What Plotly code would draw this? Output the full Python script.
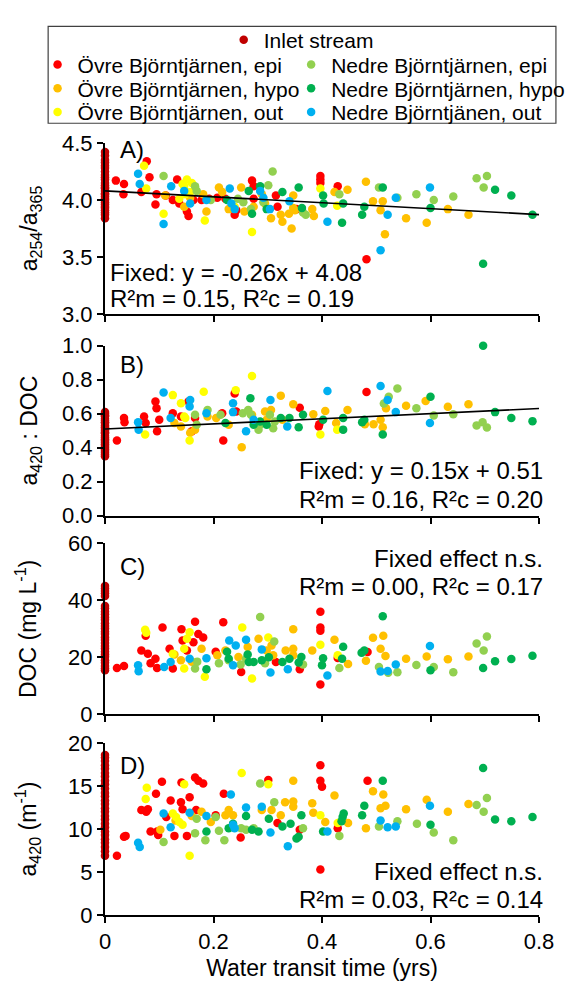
import plotly.graph_objects as go

# ---------------- data (x = water transit time in yrs) ----------------
SERIES_NAMES = ["Inlet stream",
                "Övre Björntjärnen, epi", "Övre Björntjärnen, hypo", "Övre Björntjärnen, out",
                "Nedre Björntjärnen, epi", "Nedre Björntjärnen, hypo", "Nedre Björntjänen, out"]

# Panel A: a254/a365
A_INLET_Y = [4.42, 4.39, 4.35, 4.33, 4.30, 4.28, 4.25, 4.22, 4.20, 4.18, 4.15, 4.13, 4.11, 4.10,
             4.08, 4.06, 4.05, 4.03, 4.01, 4.00, 3.98, 3.96, 3.94, 3.93, 3.91, 3.89, 3.87, 3.84]
A_OVRE_EPI = [(0.020, 4.17), (0.035, 4.14), (0.034, 4.05), (0.067, 4.07), (0.077, 4.34), (0.082, 4.20),
              (0.095, 4.05), (0.093, 3.96), (0.112, 4.04), (0.133, 4.18), (0.125, 4.00), (0.137, 3.97),
              (0.154, 3.86), (0.163, 4.00), (0.151, 3.90), (0.178, 4.00), (0.192, 4.01), (0.207, 4.02),
              (0.222, 4.01), (0.239, 3.87), (0.242, 3.91), (0.271, 4.17), (0.274, 4.12), (0.274, 4.01),
              (0.315, 4.04), (0.318, 3.94), (0.353, 3.92), (0.397, 4.21), (0.397, 4.18), (0.397, 4.15),
              (0.429, 4.12), (0.482, 3.48)]
A_OVRE_HYPO = [(0.111, 4.04), (0.146, 3.94), (0.157, 4.02), (0.181, 4.05), (0.187, 3.90), (0.210, 4.11),
               (0.216, 4.07), (0.228, 3.92), (0.251, 4.11), (0.257, 3.90), (0.274, 3.94), (0.289, 4.05),
               (0.295, 3.97), (0.306, 3.84), (0.324, 3.87), (0.327, 3.81), (0.339, 3.88), (0.344, 3.75),
               (0.350, 3.91), (0.347, 4.04), (0.347, 3.93), (0.382, 3.92), (0.385, 3.86), (0.423, 4.07),
               (0.447, 4.09), (0.481, 4.16), (0.494, 3.99), (0.508, 3.91), (0.512, 3.99), (0.516, 3.70),
               (0.555, 3.84), (0.593, 3.80), (0.632, 3.92), (0.670, 3.87)]
A_OVRE_OUT = [(0.072, 4.30), (0.076, 4.10), (0.108, 3.88), (0.143, 4.14), (0.146, 4.12), (0.151, 4.18),
              (0.160, 4.15), (0.148, 4.05), (0.157, 4.07), (0.137, 4.01), (0.184, 3.82), (0.239, 3.94),
              (0.271, 3.72), (0.397, 4.10), (0.428, 3.95)]
A_NEDRE_EPI = [(0.108, 4.21), (0.166, 4.12), (0.169, 4.08), (0.195, 4.00), (0.245, 4.01), (0.255, 3.98),
               (0.269, 3.92), (0.292, 3.98), (0.301, 4.13), (0.309, 4.25), (0.365, 3.89), (0.370, 3.87),
               (0.432, 4.05), (0.505, 4.11), (0.539, 4.02), (0.574, 4.05), (0.606, 4.00), (0.642, 4.03),
               (0.685, 4.19), (0.704, 4.21), (0.698, 4.11)]
A_NEDRE_HYPO = [(0.225, 4.00), (0.265, 4.08), (0.271, 3.88), (0.286, 4.12), (0.298, 3.92), (0.327, 4.07),
                (0.357, 4.11), (0.363, 3.93), (0.402, 4.04), (0.403, 3.97), (0.437, 3.80), (0.439, 3.97),
                (0.474, 3.87), (0.478, 3.94), (0.512, 4.11), (0.600, 3.93), (0.697, 3.44), (0.719, 4.09),
                (0.749, 4.04), (0.788, 3.87)]
A_NEDRE_OUT = [(0.061, 4.23), (0.064, 4.14), (0.108, 3.79), (0.122, 4.12), (0.146, 4.08), (0.157, 3.97),
               (0.187, 4.00), (0.230, 4.10), (0.233, 3.97), (0.239, 3.92), (0.286, 4.08), (0.292, 4.02),
               (0.304, 3.92), (0.340, 3.99), (0.410, 3.81), (0.508, 3.56), (0.521, 3.87), (0.536, 4.02),
               (0.599, 4.11)]

# Panel B: a420 : DOC
B_INLET_Y = [0.61, 0.60, 0.59, 0.585, 0.57, 0.56, 0.55, 0.545, 0.53, 0.52, 0.51, 0.50, 0.49, 0.485,
             0.47, 0.46, 0.45, 0.44, 0.43, 0.42, 0.41, 0.40, 0.39, 0.38, 0.37, 0.36, 0.35]
B_OVRE_EPI = [(0.022, 0.442), (0.035, 0.574), (0.036, 0.550), (0.072, 0.583), (0.075, 0.545), (0.093, 0.671),
              (0.095, 0.632), (0.096, 0.496), (0.100, 0.564), (0.125, 0.603), (0.140, 0.583), (0.154, 0.671),
              (0.160, 0.496), (0.166, 0.574), (0.218, 0.442), (0.216, 0.603), (0.239, 0.719), (0.242, 0.613),
              (0.359, 0.635), (0.395, 0.538), (0.394, 0.524), (0.482, 0.728)]
B_OVRE_HYPO = [(0.128, 0.545), (0.140, 0.525), (0.157, 0.487), (0.166, 0.506), (0.189, 0.583), (0.205, 0.574),
               (0.228, 0.535), (0.252, 0.403), (0.271, 0.593), (0.295, 0.613), (0.298, 0.564), (0.306, 0.622),
               (0.324, 0.706), (0.327, 0.564), (0.347, 0.655), (0.384, 0.597), (0.406, 0.616), (0.426, 0.545),
               (0.447, 0.622), (0.479, 0.538), (0.495, 0.538), (0.508, 0.564), (0.512, 0.520), (0.518, 0.632),
               (0.555, 0.647), (0.591, 0.674), (0.632, 0.641), (0.670, 0.655)]
B_OVRE_OUT = [(0.074, 0.477), (0.125, 0.709), (0.146, 0.583), (0.140, 0.661), (0.156, 0.442), (0.148, 0.574),
              (0.182, 0.729), (0.241, 0.738), (0.271, 0.822), (0.397, 0.477), (0.428, 0.506)]
B_NEDRE_EPI = [(0.166, 0.593), (0.169, 0.535), (0.189, 0.622), (0.213, 0.593), (0.254, 0.603), (0.264, 0.622),
               (0.269, 0.593), (0.283, 0.505), (0.286, 0.535), (0.304, 0.593), (0.310, 0.514), (0.313, 0.554),
               (0.514, 0.660), (0.523, 0.699), (0.539, 0.748), (0.574, 0.632), (0.606, 0.589), (0.642, 0.597),
               (0.685, 0.531), (0.696, 0.550), (0.704, 0.519)]
B_NEDRE_HYPO = [(0.222, 0.545), (0.268, 0.690), (0.274, 0.535), (0.286, 0.554), (0.298, 0.535), (0.324, 0.574),
                (0.340, 0.574), (0.365, 0.593), (0.357, 0.520), (0.402, 0.564), (0.439, 0.574), (0.439, 0.506),
                (0.474, 0.550), (0.478, 0.564), (0.512, 0.477), (0.600, 0.699), (0.697, 1.000), (0.719, 0.609),
                (0.749, 0.575), (0.788, 0.556)]
B_NEDRE_OUT = [(0.061, 0.550), (0.062, 0.506), (0.108, 0.724), (0.121, 0.574), (0.156, 0.642), (0.157, 0.680),
               (0.187, 0.603), (0.236, 0.661), (0.236, 0.609), (0.260, 0.496), (0.274, 0.564), (0.305, 0.680),
               (0.336, 0.525), (0.410, 0.733), (0.508, 0.762), (0.521, 0.680), (0.536, 0.609), (0.599, 0.545)]

# Panel C: DOC (mg L-1)
C_INLET_Y = [45.0, 44.2, 43.3, 42.5, 41.5, 38.0, 37.2, 36.0, 35.1, 34.0, 33.2, 32.0, 31.0, 30.1, 29.0,
             28.2, 27.0, 26.1, 25.0, 24.0, 23.1, 22.0, 21.0, 20.2, 19.0, 18.1, 17.0, 16.2, 15.5]
C_OVRE_EPI = [(0.022, 16.3), (0.035, 17.0), (0.067, 22.4), (0.075, 27.6), (0.079, 21.3), (0.084, 17.9),
              (0.093, 19.5), (0.096, 16.3), (0.106, 30.5), (0.119, 23.0), (0.125, 16.1), (0.141, 29.9),
              (0.143, 25.9), (0.151, 22.4), (0.163, 25.3), (0.166, 32.5), (0.172, 28.2), (0.181, 27.0),
              (0.204, 22.0), (0.218, 32.3), (0.251, 14.9), (0.315, 18.4), (0.359, 15.8), (0.397, 36.0),
              (0.397, 30.5), (0.397, 29.3), (0.397, 10.5), (0.429, 19.8), (0.484, 21.9)]
C_OVRE_HYPO = [(0.128, 21.0), (0.140, 19.0), (0.160, 18.5), (0.178, 23.0), (0.207, 20.7), (0.222, 22.4),
               (0.246, 20.1), (0.263, 23.6), (0.283, 26.5), (0.298, 22.4), (0.307, 24.2), (0.310, 20.7),
               (0.333, 22.4), (0.347, 29.9), (0.347, 23.0), (0.347, 20.7), (0.382, 22.4), (0.423, 26.2),
               (0.448, 17.7), (0.481, 18.8), (0.494, 26.9), (0.513, 27.6), (0.508, 23.0), (0.517, 20.5),
               (0.555, 19.5), (0.593, 20.3), (0.632, 19.3), (0.670, 20.3)]
C_OVRE_OUT = [(0.074, 29.7), (0.076, 28.6), (0.125, 21.3), (0.146, 23.0), (0.151, 26.5), (0.156, 28.8),
              (0.146, 16.1), (0.184, 13.2), (0.253, 30.5), (0.271, 12.6), (0.301, 27.0), (0.397, 24.4),
              (0.429, 20.7)]
C_NEDRE_EPI = [(0.166, 16.1), (0.170, 18.5), (0.210, 17.9), (0.228, 19.0), (0.250, 17.5), (0.260, 19.5),
               (0.286, 34.2), (0.295, 17.9), (0.312, 25.6), (0.365, 17.5), (0.432, 16.3), (0.505, 16.6),
               (0.522, 14.6), (0.539, 14.8), (0.574, 17.3), (0.606, 16.6), (0.642, 14.8), (0.685, 24.9),
               (0.698, 22.4), (0.704, 27.3)]
C_NEDRE_HYPO = [(0.187, 15.8), (0.225, 22.0), (0.228, 19.5), (0.263, 21.0), (0.265, 18.4), (0.274, 18.4),
                (0.289, 19.0), (0.302, 20.0), (0.327, 18.4), (0.340, 19.5), (0.362, 20.1), (0.357, 18.2),
                (0.402, 19.7), (0.400, 17.2), (0.439, 23.7), (0.437, 19.5), (0.473, 21.6), (0.478, 22.4),
                (0.512, 34.4), (0.600, 15.5), (0.697, 16.3), (0.719, 18.6), (0.749, 19.4), (0.788, 20.6)]
C_NEDRE_OUT = [(0.061, 17.2), (0.062, 15.1), (0.109, 16.6), (0.121, 18.4), (0.156, 19.5), (0.187, 19.7),
               (0.229, 25.9), (0.241, 24.2), (0.236, 17.2), (0.260, 26.2), (0.289, 22.8), (0.305, 14.7),
               (0.337, 15.8), (0.410, 13.6), (0.508, 15.0), (0.521, 15.2), (0.536, 17.5), (0.599, 24.0)]

# Panel D: a420 (m-1)
D_INLET_Y = [18.6, 18.3, 17.9, 17.4, 17.0, 16.5, 16.1, 15.6, 15.2, 14.7, 14.2, 13.8, 13.3, 12.9,
             12.4, 12.0, 11.5, 11.1, 10.6, 10.2, 9.7, 9.3, 8.8, 8.4, 7.9, 7.4, 6.9]
D_OVRE_EPI = [(0.022, 6.9), (0.035, 9.1), (0.038, 9.2), (0.067, 12.2), (0.076, 12.0), (0.079, 12.3),
              (0.084, 9.7), (0.094, 14.1), (0.096, 9.7), (0.098, 9.3), (0.105, 15.5), (0.113, 11.4),
              (0.121, 13.3), (0.128, 9.2), (0.140, 13.1), (0.141, 15.4), (0.143, 12.3), (0.151, 9.2),
              (0.156, 13.7), (0.166, 16.0), (0.168, 12.2), (0.172, 15.6), (0.181, 15.3), (0.204, 11.6),
              (0.219, 14.1), (0.250, 9.0), (0.301, 15.7), (0.318, 10.7), (0.359, 9.9), (0.397, 17.4),
              (0.397, 15.6), (0.400, 14.9), (0.397, 5.3), (0.429, 10.1), (0.484, 15.6)]
D_OVRE_HYPO = [(0.102, 9.9), (0.130, 11.0), (0.160, 11.5), (0.178, 12.0), (0.195, 10.8), (0.222, 11.6),
               (0.228, 12.2), (0.236, 11.6), (0.289, 12.2), (0.307, 12.2), (0.324, 11.6), (0.332, 13.1),
               (0.347, 15.6), (0.347, 13.2), (0.347, 12.6), (0.382, 13.0), (0.384, 11.9), (0.406, 10.8),
               (0.423, 13.9), (0.448, 10.7), (0.481, 10.1), (0.494, 14.4), (0.513, 14.0), (0.508, 12.4),
               (0.517, 12.7), (0.555, 12.3), (0.593, 13.4), (0.632, 12.0), (0.670, 12.9)]
D_OVRE_OUT = [(0.075, 13.5), (0.077, 14.8), (0.125, 11.8), (0.131, 11.4), (0.137, 10.8), (0.143, 10.5),
              (0.146, 15.2), (0.156, 6.9), (0.252, 16.5), (0.301, 15.2), (0.397, 11.6), (0.429, 10.7)]
D_NEDRE_EPI = [(0.108, 8.5), (0.166, 9.5), (0.169, 11.2), (0.185, 8.7), (0.204, 11.4), (0.210, 9.8),
               (0.220, 8.7), (0.251, 10.1), (0.260, 9.9), (0.274, 10.1), (0.286, 15.3), (0.312, 13.1),
               (0.365, 10.1), (0.432, 9.2), (0.505, 10.3), (0.539, 10.9), (0.575, 10.6), (0.606, 9.6),
               (0.642, 8.7), (0.685, 12.8), (0.698, 12.0), (0.704, 13.6)]
D_NEDRE_HYPO = [(0.187, 9.7), (0.228, 10.1), (0.236, 10.6), (0.260, 11.5), (0.271, 9.9), (0.283, 9.7),
                (0.302, 11.2), (0.327, 10.3), (0.342, 10.6), (0.353, 8.9), (0.362, 11.6), (0.357, 9.1),
                (0.402, 9.7), (0.438, 11.4), (0.440, 11.8), (0.436, 10.9), (0.474, 11.6), (0.478, 12.7),
                (0.512, 15.6), (0.600, 10.5), (0.697, 17.1), (0.719, 11.1), (0.749, 10.9), (0.788, 11.4)]
D_NEDRE_OUT = [(0.061, 8.4), (0.064, 7.9), (0.108, 11.8), (0.121, 10.2), (0.156, 11.9), (0.187, 11.5),
               (0.232, 14.0), (0.236, 10.5), (0.239, 10.1), (0.260, 12.5), (0.289, 12.6), (0.305, 9.6),
               (0.337, 8.0), (0.410, 9.7), (0.508, 11.0), (0.521, 10.2), (0.536, 10.3), (0.599, 12.7)]

# fixed-effect regression lines (slope, intercept) for panels A and B
A_FIT = (-0.26, 4.08)
B_FIT = (0.15, 0.51)
FIT_X = [0.0, 0.8]

X_TICKS = [0, 0.2, 0.4, 0.6, 0.8]

# ---------------- styling ----------------
FONT = "Liberation Sans, Arial, sans-serif"
COLORS = ["#C00000", "#FF0000", "#FFC000", "#FFFF00", "#92D050", "#00B050", "#00B0F0"]
LEGENDS = ["legend", "legend2", "legend3", "legend4", "legend5", "legend6", "legend7"]

PANELS = [
    dict(inlet=A_INLET_Y, series=[A_OVRE_EPI, A_OVRE_HYPO, A_OVRE_OUT, A_NEDRE_EPI, A_NEDRE_HYPO, A_NEDRE_OUT],
         rng=[3.0, 4.5], dtick=0.5, fmt=".1f", title="a<sub>254</sub>/a<sub>365</sub>", fit=A_FIT,
         dom=[0.7785, 1.0], standoff=18),
    dict(inlet=B_INLET_Y, series=[B_OVRE_EPI, B_OVRE_HYPO, B_OVRE_OUT, B_NEDRE_EPI, B_NEDRE_HYPO, B_NEDRE_OUT],
         rng=[0.0, 1.0], dtick=0.2, fmt=".1f", title="a<sub>420</sub> : DOC", fit=B_FIT,
         dom=[0.5173, 0.7375], standoff=18),
    dict(inlet=C_INLET_Y, series=[C_OVRE_EPI, C_OVRE_HYPO, C_OVRE_OUT, C_NEDRE_EPI, C_NEDRE_HYPO, C_NEDRE_OUT],
         rng=[0, 60], dtick=20, fmt="d", title="DOC (mg L<sup>-1</sup>)", fit=None,
         dom=[0.2599, 0.4814], standoff=25),
    dict(inlet=D_INLET_Y, series=[D_OVRE_EPI, D_OVRE_HYPO, D_OVRE_OUT, D_NEDRE_EPI, D_NEDRE_HYPO, D_NEDRE_OUT],
         rng=[0, 20], dtick=5, fmt="d", title="a<sub>420</sub> (m<sup>-1</sup>)", fit=None,
         dom=[0.0, 0.2228], standoff=25),
]

fig = go.Figure()

for i, p in enumerate(PANELS, start=1):
    xa = "x" if i == 1 else f"x{i}"
    ya = "y" if i == 1 else f"y{i}"
    groups = [([0.0] * len(p["inlet"]), p["inlet"])]
    for pts in p["series"]:
        groups.append(([q[0] for q in pts], [q[1] for q in pts]))
    for k, (xs, ys) in enumerate(groups):
        fig.add_trace(go.Scatter(
            x=xs, y=ys, mode="markers", name=SERIES_NAMES[k],
            marker=dict(color=COLORS[k], size=8.5, line=dict(width=0)),
            xaxis=xa, yaxis=ya, cliponaxis=False,
            legendgroup=SERIES_NAMES[k], legend=LEGENDS[k], showlegend=(i == 1)))
    if p["fit"] is not None:
        m, b = p["fit"]
        fig.add_trace(go.Scatter(
            x=FIT_X, y=[m * v + b for v in FIT_X], mode="lines",
            line=dict(color="black", width=1.6), xaxis=xa, yaxis=ya,
            showlegend=False, hoverinfo="skip"))

axis_common = dict(showline=True, linecolor="black", linewidth=2, ticks="outside", ticklen=6,
                   tickwidth=2, tickcolor="black", showgrid=False, zeroline=False,
                   tickfont=dict(family=FONT, size=22, color="black"))

layout = dict(
    width=574, height=981, autosize=False,
    margin=dict(l=97, r=20, t=130, b=70),
    paper_bgcolor="white", plot_bgcolor="white",
    font=dict(family=FONT, size=22, color="black"),
    hovermode=False,
)

for i, p in enumerate(PANELS, start=1):
    xk = "xaxis" if i == 1 else f"xaxis{i}"
    yk = "yaxis" if i == 1 else f"yaxis{i}"
    ya = "y" if i == 1 else f"y{i}"
    xa = "x" if i == 1 else f"x{i}"
    xaxis = dict(axis_common, domain=[0, 1], range=[0, 0.8], anchor=ya, tickvals=X_TICKS,
                 showticklabels=(i == 4))
    if i != 1:
        xaxis["matches"] = "x"
    if i == 4:
        xaxis["title"] = dict(text="Water transit time (yrs)", font=dict(family=FONT, size=23),
                              standoff=6)
    layout[xk] = xaxis
    layout[yk] = dict(axis_common, domain=p["dom"], range=p["rng"], dtick=p["dtick"],
                      tickformat=p["fmt"], anchor=xa,
                      title=dict(text=p["title"], font=dict(family=FONT, size=23),
                                 standoff=p["standoff"]))

fig.update_layout(**layout)

# legends: one entry each, laid out as in a boxed key (1 centred row + 2 columns)
LEG_POS = [(0.2735, 1.1332),
           (-0.1554, 1.1012), (-0.1554, 1.0704), (-0.1554, 1.0397),
           (0.4289, 1.1012), (0.4289, 1.0704), (0.4289, 1.0397)]
for k, (lx, ly) in enumerate(LEG_POS):
    fig.update_layout({LEGENDS[k]: dict(x=lx, y=ly, xanchor="left", yanchor="middle",
                                        bgcolor="rgba(0,0,0,0)", borderwidth=0,
                                        font=dict(family=FONT, size=21, color="black"),
                                        itemsizing="trace")})

fig.add_shape(type="rect", xref="paper", yref="paper", x0=-0.131, x1=1.039, y0=1.0256, y1=1.151,
              line=dict(color="#404040", width=1.2), fillcolor="rgba(0,0,0,0)")

# panel texts
ANN_FONT = dict(family=FONT, size=24, color="black")
panel_texts = [
    (1, [("A)", 0.030, 0.960, "left"),
         ("Fixed: y = -0.26x + 4.08", 0.007, 0.243, "left"),
         ("R²m = 0.15, R²c = 0.19", 0.007, 0.092, "left")]),
    (2, [("B)", 0.030, 0.892, "left"),
         ("Fixed: y = 0.15x + 0.51", 1.013, 0.265, "right"),
         ("R²m = 0.16, R²c = 0.20", 1.013, 0.093, "right")]),
    (3, [("C)", 0.030, 0.867, "left"),
         ("Fixed effect n.s.", 1.013, 0.913, "right"),
         ("R²m = 0.00, R²c = 0.17", 1.013, 0.749, "right")]),
    (4, [("D)", 0.030, 0.871, "left"),
         ("Fixed effect n.s.", 1.013, 0.250, "right"),
         ("R²m = 0.03, R²c = 0.14", 1.013, 0.092, "right")]),
]
for i, items in panel_texts:
    xr = "x domain" if i == 1 else f"x{i} domain"
    yr = "y domain" if i == 1 else f"y{i} domain"
    for txt, ax, ay, anc in items:
        fig.add_annotation(text=txt, x=ax, y=ay, xref=xr, yref=yr, xanchor=anc, yanchor="middle",
                           showarrow=False, font=ANN_FONT)

fig.write_html("out.html")
